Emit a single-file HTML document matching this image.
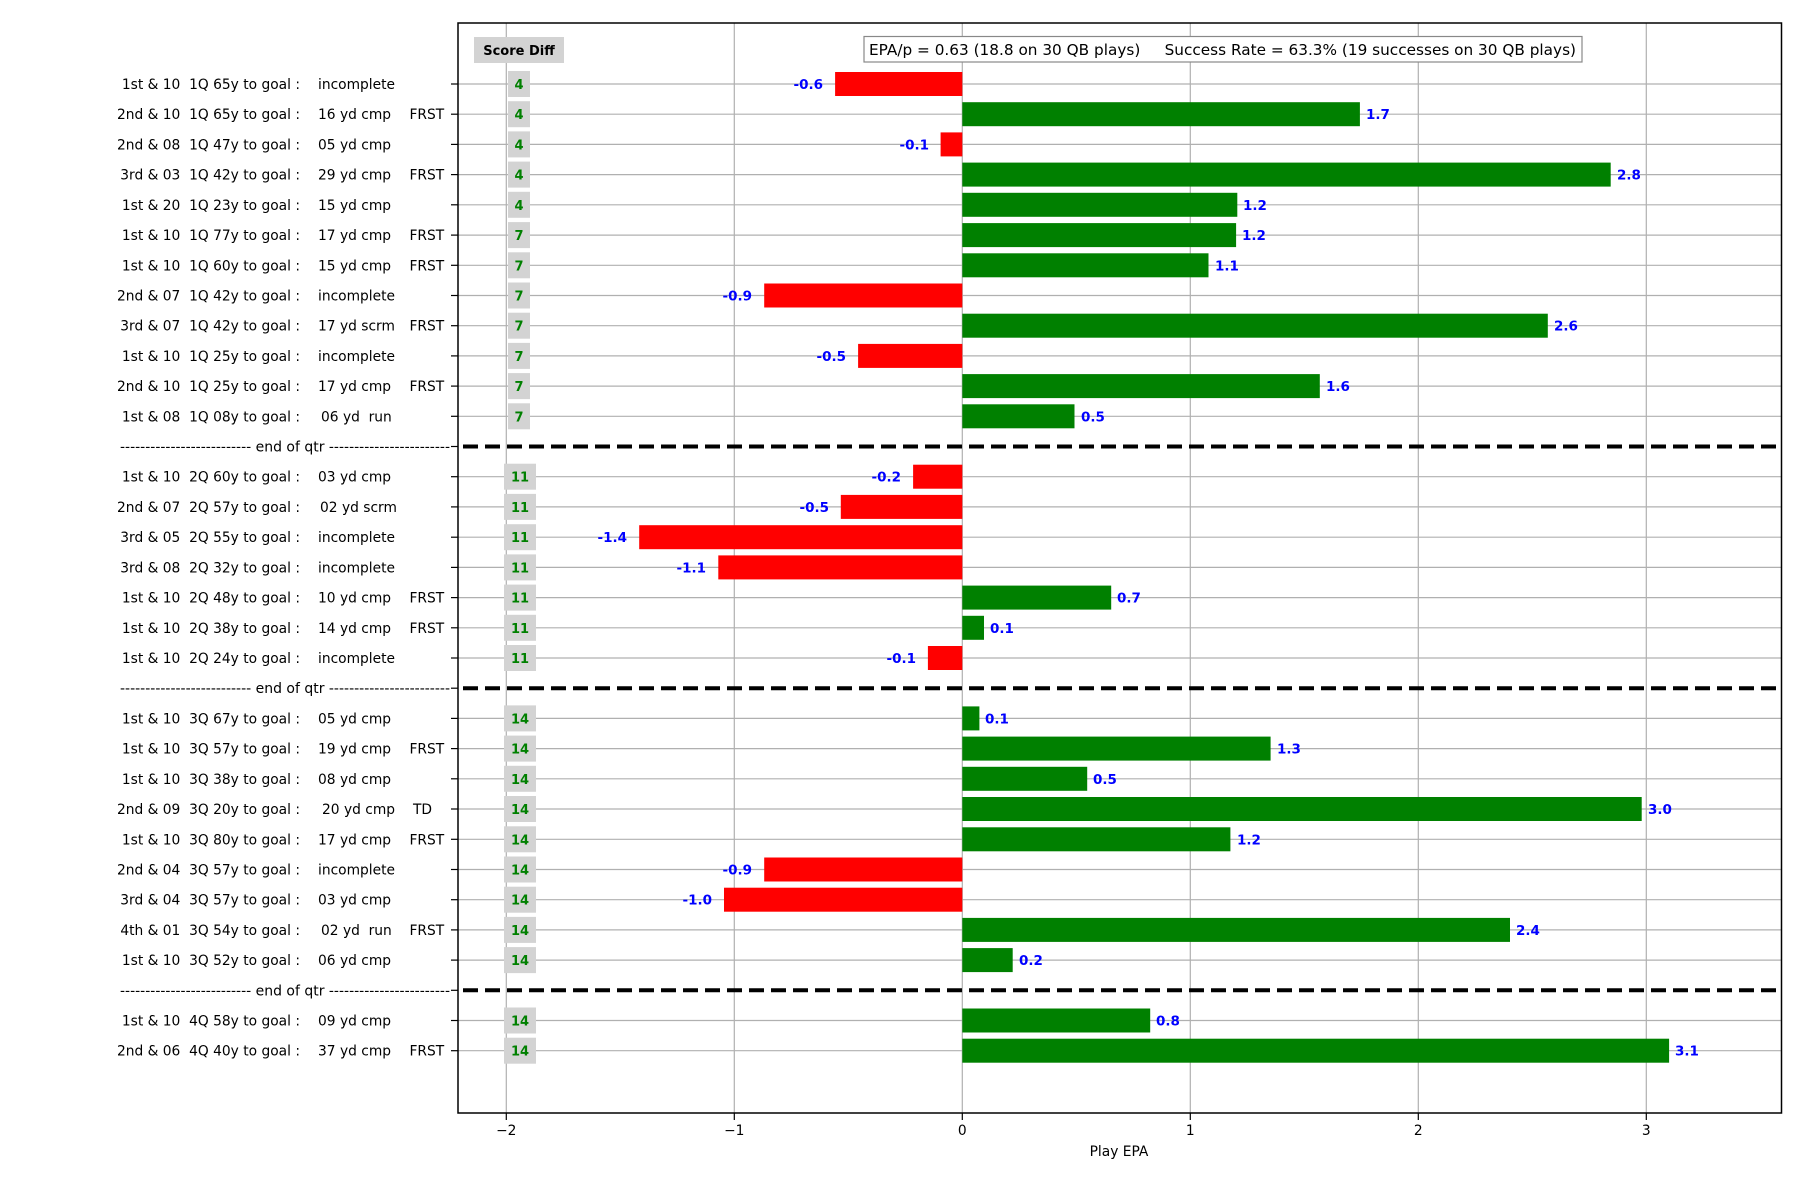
<!DOCTYPE html>
<html><head><meta charset="utf-8"><style>
html,body{margin:0;padding:0;background:#fff;}
svg{display:block;}
text{white-space:pre;}
.l{font-family:"DejaVu Sans","Liberation Sans",sans-serif;font-size:13.8px;fill:#000;}
.s{font-family:"DejaVu Sans","Liberation Sans",sans-serif;font-size:13px;font-weight:bold;fill:#008000;text-anchor:middle;}
.v{font-family:"DejaVu Sans","Liberation Sans",sans-serif;font-size:13.5px;font-weight:bold;fill:#0000ff;}
.n{text-anchor:end;}
.e{text-anchor:end;}
.g{stroke:#b0b0b0;stroke-width:1.2;}
.t{stroke:#000;stroke-width:1.2;}
.sep{stroke:#000;stroke-width:4;stroke-dasharray:15,7;}
.gr{fill:#008000;} .rd{fill:#ff0000;} .bx{fill:#d3d3d3;}
</style></head><body>
<svg width="1800" height="1200" xmlns="http://www.w3.org/2000/svg">
<rect width="1800" height="1200" fill="#fff"/>
<g class="g">
<line x1="506.3" y1="23" x2="506.3" y2="1113"/>
<line x1="734.3" y1="23" x2="734.3" y2="1113"/>
<line x1="962.3" y1="23" x2="962.3" y2="1113"/>
<line x1="1190.3" y1="23" x2="1190.3" y2="1113"/>
<line x1="1418.3" y1="23" x2="1418.3" y2="1113"/>
<line x1="1646.3" y1="23" x2="1646.3" y2="1113"/>
</g>

<g transform="translate(0,84)"><line class="g" x1="458" x2="1781" y1="0" y2="0"/><line class="t" x1="451" x2="458" y1="0" y2="0"/><rect class="rd" x="835.1" y="-12" width="127.2" height="24"/><text class="v n" x="823" y="5">-0.6</text><rect class="bx" x="508" y="-13" width="22" height="26"/><text class="s" x="519" y="5">4</text><text class="l e" x="300" y="5">1st &amp; 10  1Q 65y to goal :</text><text class="l" x="318" y="5">incomplete</text></g>
<g transform="translate(0,114.2)"><line class="g" x1="458" x2="1781" y1="0" y2="0"/><line class="t" x1="451" x2="458" y1="0" y2="0"/><rect class="gr" x="962.3" y="-12" width="397.6" height="24"/><text class="v" x="1366" y="5">1.7</text><rect class="bx" x="508" y="-13" width="22" height="26"/><text class="s" x="519" y="5">4</text><text class="l e" x="300" y="5">2nd &amp; 10  1Q 65y to goal :</text><text class="l" x="318" y="5">16 yd cmp</text><text class="l" x="409.5" y="5">FRST</text></g>
<g transform="translate(0,144.4)"><line class="g" x1="458" x2="1781" y1="0" y2="0"/><line class="t" x1="451" x2="458" y1="0" y2="0"/><rect class="rd" x="940.6" y="-12" width="21.7" height="24"/><text class="v n" x="929" y="5">-0.1</text><rect class="bx" x="508" y="-13" width="22" height="26"/><text class="s" x="519" y="5">4</text><text class="l e" x="300" y="5">2nd &amp; 08  1Q 47y to goal :</text><text class="l" x="318" y="5">05 yd cmp</text></g>
<g transform="translate(0,174.6)"><line class="g" x1="458" x2="1781" y1="0" y2="0"/><line class="t" x1="451" x2="458" y1="0" y2="0"/><rect class="gr" x="962.3" y="-12" width="648.4" height="24"/><text class="v" x="1617" y="5">2.8</text><rect class="bx" x="508" y="-13" width="22" height="26"/><text class="s" x="519" y="5">4</text><text class="l e" x="300" y="5">3rd &amp; 03  1Q 42y to goal :</text><text class="l" x="318" y="5">29 yd cmp</text><text class="l" x="409.5" y="5">FRST</text></g>
<g transform="translate(0,204.8)"><line class="g" x1="458" x2="1781" y1="0" y2="0"/><line class="t" x1="451" x2="458" y1="0" y2="0"/><rect class="gr" x="962.3" y="-12" width="275" height="24"/><text class="v" x="1243" y="5">1.2</text><rect class="bx" x="508" y="-13" width="22" height="26"/><text class="s" x="519" y="5">4</text><text class="l e" x="300" y="5">1st &amp; 20  1Q 23y to goal :</text><text class="l" x="318" y="5">15 yd cmp</text></g>
<g transform="translate(0,235.1)"><line class="g" x1="458" x2="1781" y1="0" y2="0"/><line class="t" x1="451" x2="458" y1="0" y2="0"/><rect class="gr" x="962.3" y="-12" width="273.8" height="24"/><text class="v" x="1242" y="5">1.2</text><rect class="bx" x="508" y="-13" width="22" height="26"/><text class="s" x="519" y="5">7</text><text class="l e" x="300" y="5">1st &amp; 10  1Q 77y to goal :</text><text class="l" x="318" y="5">17 yd cmp</text><text class="l" x="409.5" y="5">FRST</text></g>
<g transform="translate(0,265.3)"><line class="g" x1="458" x2="1781" y1="0" y2="0"/><line class="t" x1="451" x2="458" y1="0" y2="0"/><rect class="gr" x="962.3" y="-12" width="246.2" height="24"/><text class="v" x="1215" y="5">1.1</text><rect class="bx" x="508" y="-13" width="22" height="26"/><text class="s" x="519" y="5">7</text><text class="l e" x="300" y="5">1st &amp; 10  1Q 60y to goal :</text><text class="l" x="318" y="5">15 yd cmp</text><text class="l" x="409.5" y="5">FRST</text></g>
<g transform="translate(0,295.5)"><line class="g" x1="458" x2="1781" y1="0" y2="0"/><line class="t" x1="451" x2="458" y1="0" y2="0"/><rect class="rd" x="764.2" y="-12" width="198.1" height="24"/><text class="v n" x="752" y="5">-0.9</text><rect class="bx" x="508" y="-13" width="22" height="26"/><text class="s" x="519" y="5">7</text><text class="l e" x="300" y="5">2nd &amp; 07  1Q 42y to goal :</text><text class="l" x="318" y="5">incomplete</text></g>
<g transform="translate(0,325.7)"><line class="g" x1="458" x2="1781" y1="0" y2="0"/><line class="t" x1="451" x2="458" y1="0" y2="0"/><rect class="gr" x="962.3" y="-12" width="585.5" height="24"/><text class="v" x="1554" y="5">2.6</text><rect class="bx" x="508" y="-13" width="22" height="26"/><text class="s" x="519" y="5">7</text><text class="l e" x="300" y="5">3rd &amp; 07  1Q 42y to goal :</text><text class="l" x="318" y="5">17 yd scrm</text><text class="l" x="409.5" y="5">FRST</text></g>
<g transform="translate(0,355.9)"><line class="g" x1="458" x2="1781" y1="0" y2="0"/><line class="t" x1="451" x2="458" y1="0" y2="0"/><rect class="rd" x="858.1" y="-12" width="104.2" height="24"/><text class="v n" x="846" y="5">-0.5</text><rect class="bx" x="508" y="-13" width="22" height="26"/><text class="s" x="519" y="5">7</text><text class="l e" x="300" y="5">1st &amp; 10  1Q 25y to goal :</text><text class="l" x="318" y="5">incomplete</text></g>
<g transform="translate(0,386.1)"><line class="g" x1="458" x2="1781" y1="0" y2="0"/><line class="t" x1="451" x2="458" y1="0" y2="0"/><rect class="gr" x="962.3" y="-12" width="357.5" height="24"/><text class="v" x="1326" y="5">1.6</text><rect class="bx" x="508" y="-13" width="22" height="26"/><text class="s" x="519" y="5">7</text><text class="l e" x="300" y="5">2nd &amp; 10  1Q 25y to goal :</text><text class="l" x="318" y="5">17 yd cmp</text><text class="l" x="409.5" y="5">FRST</text></g>
<g transform="translate(0,416.3)"><line class="g" x1="458" x2="1781" y1="0" y2="0"/><line class="t" x1="451" x2="458" y1="0" y2="0"/><rect class="gr" x="962.3" y="-12" width="112.2" height="24"/><text class="v" x="1081" y="5">0.5</text><rect class="bx" x="508" y="-13" width="22" height="26"/><text class="s" x="519" y="5">7</text><text class="l e" x="300" y="5">1st &amp; 08  1Q 08y to goal :</text><text class="l" x="321" y="5">06 yd  run</text></g>
<g transform="translate(0,446.5)"><line class="sep" x1="463" x2="1781" y1="0" y2="0"/><line class="t" x1="451" x2="458" y1="0" y2="0"/><text class="l" x="285" y="5" text-anchor="middle" textLength="330" lengthAdjust="spacingAndGlyphs">-------------------------- end of qtr ------------------------</text></g>

<g transform="translate(0,476.7)"><line class="g" x1="458" x2="1781" y1="0" y2="0"/><line class="t" x1="451" x2="458" y1="0" y2="0"/><rect class="rd" x="913.1" y="-12" width="49.2" height="24"/><text class="v n" x="901" y="5">-0.2</text><rect class="bx" x="504" y="-13" width="32" height="26"/><text class="s" x="520" y="5">11</text><text class="l e" x="300" y="5">1st &amp; 10  2Q 60y to goal :</text><text class="l" x="318" y="5">03 yd cmp</text></g>
<g transform="translate(0,506.9)"><line class="g" x1="458" x2="1781" y1="0" y2="0"/><line class="t" x1="451" x2="458" y1="0" y2="0"/><rect class="rd" x="840.8" y="-12" width="121.5" height="24"/><text class="v n" x="829" y="5">-0.5</text><rect class="bx" x="504" y="-13" width="32" height="26"/><text class="s" x="520" y="5">11</text><text class="l e" x="300" y="5">2nd &amp; 07  2Q 57y to goal :</text><text class="l" x="320" y="5">02 yd scrm</text></g>
<g transform="translate(0,537.2)"><line class="g" x1="458" x2="1781" y1="0" y2="0"/><line class="t" x1="451" x2="458" y1="0" y2="0"/><rect class="rd" x="639.2" y="-12" width="323.1" height="24"/><text class="v n" x="627" y="5">-1.4</text><rect class="bx" x="504" y="-13" width="32" height="26"/><text class="s" x="520" y="5">11</text><text class="l e" x="300" y="5">3rd &amp; 05  2Q 55y to goal :</text><text class="l" x="318" y="5">incomplete</text></g>
<g transform="translate(0,567.4)"><line class="g" x1="458" x2="1781" y1="0" y2="0"/><line class="t" x1="451" x2="458" y1="0" y2="0"/><rect class="rd" x="718.3" y="-12" width="244" height="24"/><text class="v n" x="706" y="5">-1.1</text><rect class="bx" x="504" y="-13" width="32" height="26"/><text class="s" x="520" y="5">11</text><text class="l e" x="300" y="5">3rd &amp; 08  2Q 32y to goal :</text><text class="l" x="318" y="5">incomplete</text></g>
<g transform="translate(0,597.6)"><line class="g" x1="458" x2="1781" y1="0" y2="0"/><line class="t" x1="451" x2="458" y1="0" y2="0"/><rect class="gr" x="962.3" y="-12" width="148.9" height="24"/><text class="v" x="1117" y="5">0.7</text><rect class="bx" x="504" y="-13" width="32" height="26"/><text class="s" x="520" y="5">11</text><text class="l e" x="300" y="5">1st &amp; 10  2Q 48y to goal :</text><text class="l" x="318" y="5">10 yd cmp</text><text class="l" x="409.5" y="5">FRST</text></g>
<g transform="translate(0,627.8)"><line class="g" x1="458" x2="1781" y1="0" y2="0"/><line class="t" x1="451" x2="458" y1="0" y2="0"/><rect class="gr" x="962.3" y="-12" width="21.7" height="24"/><text class="v" x="990" y="5">0.1</text><rect class="bx" x="504" y="-13" width="32" height="26"/><text class="s" x="520" y="5">11</text><text class="l e" x="300" y="5">1st &amp; 10  2Q 38y to goal :</text><text class="l" x="318" y="5">14 yd cmp</text><text class="l" x="409.5" y="5">FRST</text></g>
<g transform="translate(0,658)"><line class="g" x1="458" x2="1781" y1="0" y2="0"/><line class="t" x1="451" x2="458" y1="0" y2="0"/><rect class="rd" x="927.9" y="-12" width="34.4" height="24"/><text class="v n" x="916" y="5">-0.1</text><rect class="bx" x="504" y="-13" width="32" height="26"/><text class="s" x="520" y="5">11</text><text class="l e" x="300" y="5">1st &amp; 10  2Q 24y to goal :</text><text class="l" x="318" y="5">incomplete</text></g>
<g transform="translate(0,688.2)"><line class="sep" x1="463" x2="1781" y1="0" y2="0"/><line class="t" x1="451" x2="458" y1="0" y2="0"/><text class="l" x="285" y="5" text-anchor="middle" textLength="330" lengthAdjust="spacingAndGlyphs">-------------------------- end of qtr ------------------------</text></g>

<g transform="translate(0,718.4)"><line class="g" x1="458" x2="1781" y1="0" y2="0"/><line class="t" x1="451" x2="458" y1="0" y2="0"/><rect class="gr" x="962.3" y="-12" width="17.1" height="24"/><text class="v" x="985" y="5">0.1</text><rect class="bx" x="504" y="-13" width="32" height="26"/><text class="s" x="520" y="5">14</text><text class="l e" x="300" y="5">1st &amp; 10  3Q 67y to goal :</text><text class="l" x="318" y="5">05 yd cmp</text></g>
<g transform="translate(0,748.6)"><line class="g" x1="458" x2="1781" y1="0" y2="0"/><line class="t" x1="451" x2="458" y1="0" y2="0"/><rect class="gr" x="962.3" y="-12" width="308.3" height="24"/><text class="v" x="1277" y="5">1.3</text><rect class="bx" x="504" y="-13" width="32" height="26"/><text class="s" x="520" y="5">14</text><text class="l e" x="300" y="5">1st &amp; 10  3Q 57y to goal :</text><text class="l" x="318" y="5">19 yd cmp</text><text class="l" x="409.5" y="5">FRST</text></g>
<g transform="translate(0,778.8)"><line class="g" x1="458" x2="1781" y1="0" y2="0"/><line class="t" x1="451" x2="458" y1="0" y2="0"/><rect class="gr" x="962.3" y="-12" width="124.9" height="24"/><text class="v" x="1093" y="5">0.5</text><rect class="bx" x="504" y="-13" width="32" height="26"/><text class="s" x="520" y="5">14</text><text class="l e" x="300" y="5">1st &amp; 10  3Q 38y to goal :</text><text class="l" x="318" y="5">08 yd cmp</text></g>
<g transform="translate(0,809)"><line class="g" x1="458" x2="1781" y1="0" y2="0"/><line class="t" x1="451" x2="458" y1="0" y2="0"/><rect class="gr" x="962.3" y="-12" width="679.4" height="24"/><text class="v" x="1648" y="5">3.0</text><rect class="bx" x="504" y="-13" width="32" height="26"/><text class="s" x="520" y="5">14</text><text class="l e" x="300" y="5">2nd &amp; 09  3Q 20y to goal :</text><text class="l" x="322" y="5">20 yd cmp</text><text class="l" x="413" y="5">TD</text></g>
<g transform="translate(0,839.3)"><line class="g" x1="458" x2="1781" y1="0" y2="0"/><line class="t" x1="451" x2="458" y1="0" y2="0"/><rect class="gr" x="962.3" y="-12" width="268.1" height="24"/><text class="v" x="1237" y="5">1.2</text><rect class="bx" x="504" y="-13" width="32" height="26"/><text class="s" x="520" y="5">14</text><text class="l e" x="300" y="5">1st &amp; 10  3Q 80y to goal :</text><text class="l" x="318" y="5">17 yd cmp</text><text class="l" x="409.5" y="5">FRST</text></g>
<g transform="translate(0,869.5)"><line class="g" x1="458" x2="1781" y1="0" y2="0"/><line class="t" x1="451" x2="458" y1="0" y2="0"/><rect class="rd" x="764.2" y="-12" width="198.1" height="24"/><text class="v n" x="752" y="5">-0.9</text><rect class="bx" x="504" y="-13" width="32" height="26"/><text class="s" x="520" y="5">14</text><text class="l e" x="300" y="5">2nd &amp; 04  3Q 57y to goal :</text><text class="l" x="318" y="5">incomplete</text></g>
<g transform="translate(0,899.7)"><line class="g" x1="458" x2="1781" y1="0" y2="0"/><line class="t" x1="451" x2="458" y1="0" y2="0"/><rect class="rd" x="724" y="-12" width="238.3" height="24"/><text class="v n" x="712" y="5">-1.0</text><rect class="bx" x="504" y="-13" width="32" height="26"/><text class="s" x="520" y="5">14</text><text class="l e" x="300" y="5">3rd &amp; 04  3Q 57y to goal :</text><text class="l" x="318" y="5">03 yd cmp</text></g>
<g transform="translate(0,929.9)"><line class="g" x1="458" x2="1781" y1="0" y2="0"/><line class="t" x1="451" x2="458" y1="0" y2="0"/><rect class="gr" x="962.3" y="-12" width="547.7" height="24"/><text class="v" x="1516" y="5">2.4</text><rect class="bx" x="504" y="-13" width="32" height="26"/><text class="s" x="520" y="5">14</text><text class="l e" x="300" y="5">4th &amp; 01  3Q 54y to goal :</text><text class="l" x="321" y="5">02 yd  run</text><text class="l" x="409.5" y="5">FRST</text></g>
<g transform="translate(0,960.1)"><line class="g" x1="458" x2="1781" y1="0" y2="0"/><line class="t" x1="451" x2="458" y1="0" y2="0"/><rect class="gr" x="962.3" y="-12" width="50.4" height="24"/><text class="v" x="1019" y="5">0.2</text><rect class="bx" x="504" y="-13" width="32" height="26"/><text class="s" x="520" y="5">14</text><text class="l e" x="300" y="5">1st &amp; 10  3Q 52y to goal :</text><text class="l" x="318" y="5">06 yd cmp</text></g>
<g transform="translate(0,990.3)"><line class="sep" x1="463" x2="1781" y1="0" y2="0"/><line class="t" x1="451" x2="458" y1="0" y2="0"/><text class="l" x="285" y="5" text-anchor="middle" textLength="330" lengthAdjust="spacingAndGlyphs">-------------------------- end of qtr ------------------------</text></g>

<g transform="translate(0,1020.5)"><line class="g" x1="458" x2="1781" y1="0" y2="0"/><line class="t" x1="451" x2="458" y1="0" y2="0"/><rect class="gr" x="962.3" y="-12" width="187.9" height="24"/><text class="v" x="1156" y="5">0.8</text><rect class="bx" x="504" y="-13" width="32" height="26"/><text class="s" x="520" y="5">14</text><text class="l e" x="300" y="5">1st &amp; 10  4Q 58y to goal :</text><text class="l" x="318" y="5">09 yd cmp</text></g>
<g transform="translate(0,1050.7)"><line class="g" x1="458" x2="1781" y1="0" y2="0"/><line class="t" x1="451" x2="458" y1="0" y2="0"/><rect class="gr" x="962.3" y="-12" width="706.8" height="24"/><text class="v" x="1675" y="5">3.1</text><rect class="bx" x="504" y="-13" width="32" height="26"/><text class="s" x="520" y="5">14</text><text class="l e" x="300" y="5">2nd &amp; 06  4Q 40y to goal :</text><text class="l" x="318" y="5">37 yd cmp</text><text class="l" x="409.5" y="5">FRST</text></g>

<rect x="474" y="37" width="90" height="26" fill="#d3d3d3"/>
<text x="519" y="55" class="s" style="fill:#000">Score Diff</text>
<rect x="864" y="36.5" width="718" height="25.5" fill="#fff" stroke="#888" stroke-width="1.2"/>
<text x="869" y="55" class="l" style="font-size:15px" textLength="707" lengthAdjust="spacingAndGlyphs">EPA/p = 0.63 (18.8 on 30 QB plays)     Success Rate = 63.3% (19 successes on 30 QB plays)</text>
<rect x="458" y="23" width="1323.5" height="1090" fill="none" stroke="#000" stroke-width="1.5"/>
<g class="t">
<line x1="506.3" x2="506.3" y1="1113" y2="1120"/><line x1="734.3" x2="734.3" y1="1113" y2="1120"/><line x1="962.3" x2="962.3" y1="1113" y2="1120"/><line x1="1190.3" x2="1190.3" y1="1113" y2="1120"/><line x1="1418.3" x2="1418.3" y1="1113" y2="1120"/><line x1="1646.3" x2="1646.3" y1="1113" y2="1120"/>
</g>
<g class="l" text-anchor="middle">
<text x="506.3" y="1135">−2</text><text x="734.3" y="1135">−1</text><text x="962.3" y="1135">0</text><text x="1190.3" y="1135">1</text><text x="1418.3" y="1135">2</text><text x="1646.3" y="1135">3</text>
<text x="1119" y="1156">Play EPA</text>
</g>
</svg>
</body></html>
